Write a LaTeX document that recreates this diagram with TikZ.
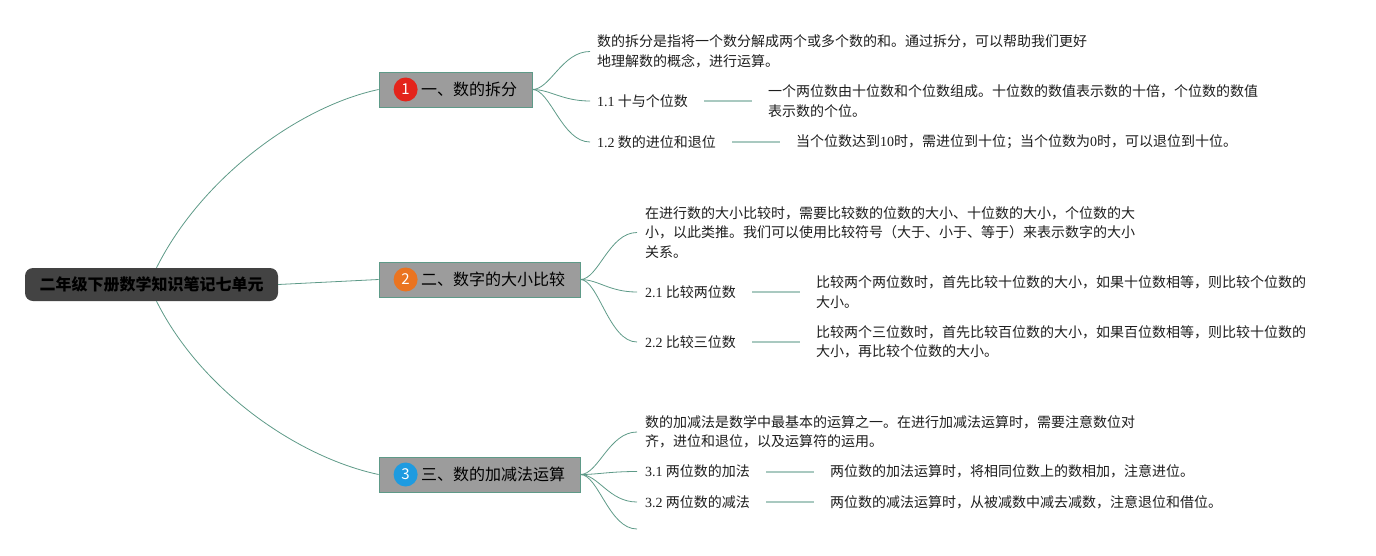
\documentclass[tikz,border=0pt]{standalone}
\usepackage{fontspec}
\setmainfont{Noto Sans CJK SC}
\newfontfamily\latin{Liberation Serif}
\newcommand{\nm}[1]{{\latin #1}}
\usetikzlibrary{positioning}
\definecolor{mapline}{HTML}{5E9A88}
\definecolor{mapbar}{HTML}{A9C9C0}
\definecolor{rootgray}{HTML}{434343}
\definecolor{topicgray}{HTML}{9C9C9C}
\definecolor{badgered}{HTML}{E3241B}
\definecolor{badgeorange}{HTML}{EA7420}
\definecolor{badgeblue}{HTML}{1E9BE0}
\definecolor{notetext}{HTML}{1E1E1E}
\tikzset{
  rootbox/.style={fill=rootgray, rounded corners=8pt, minimum width=253pt, minimum height=33pt, inner sep=0pt, font=\fontsize{16}{16}\selectfont\bfseries, text=black},
  topicbox/.style={draw=mapline, line width=0.8pt, fill=topicgray, minimum height=35pt, inner xsep=15pt, inner ysep=0pt, font=\fontsize{16}{16}\selectfont, text=black},
  badge/.style={circle, inner sep=0pt, minimum size=24pt, text=white, font=\fontsize{15}{15}\selectfont},
  note/.style={inner sep=0pt, anchor=west, align=left, text=notetext, font=\fontsize{14}{19.5}\selectfont},
  stem/.style={draw=mapline, line width=0.8pt},
  bar/.style={draw=mapbar, line width=2pt}
}

\begin{document}
\begin{tikzpicture}[x=1pt, y=-1pt]
  \useasboundingbox (0,0) rectangle (1376,555);

  % root and main topics
  \node[rootbox] (root) at (151.5,284.5) {二年级下册数学知识笔记七单元};
  \node[topicbox] (t1) at (455.5,89.5) {\hspace{27pt}一、数的拆分};
  \node[topicbox] (t2) at (479.5,279.5) {\hspace{27pt}二、数字的大小比较};
  \node[topicbox] (t3) at (479.5,474.5) {\hspace{27pt}三、数的加减法运算};
  \node[badge, fill=badgered] (k1) at ([xshift=27pt]t1.west) {1};
  \node[badge, fill=badgeorange] (k2) at ([xshift=27pt]t2.west) {2};
  \node[badge, fill=badgeblue] (k3) at ([xshift=27pt]t3.west) {3};

  \draw[stem] ([xshift=5pt]root.north) .. controls +(45,-90) and +(-80,17) .. (t1.west);
  \draw[stem] (root.east) -- (t2.west);
  \draw[stem] ([xshift=5pt]root.south) .. controls +(45,90) and +(-80,-17) .. (t3.west);

  % topic 1
  \node[note] (n1) at (597,51.5) {数的拆分是指将一个数分解成两个或多个数的和。通过拆分，可以帮助我们更好\\地理解数的概念，进行运算。};
  \node[note] (s11) at (597,101) {\nm{1.1} 十与个位数};
  \node[note, right=80pt of s11] (d11) {一个两位数由十位数和个位数组成。十位数的数值表示数的十倍，个位数的数值\\表示数的个位。};
  \node[note] (s12) at (597,142) {\nm{1.2} 数的进位和退位};
  \node[note, right=80pt of s12] (d12) {当个位数达到\nm{10}时，需进位到十位；当个位数为\nm{0}时，可以退位到十位。};

  \foreach \n in {n1,s11,s12}
    \draw[stem] (t1.east) .. controls +(18,0) and +(-28,0) .. ([xshift=-7pt]\n.west);
  \draw[bar] ([xshift=16pt]s11.east) -- ([xshift=-16pt]d11.west);
  \draw[bar] ([xshift=16pt]s12.east) -- ([xshift=-16pt]d12.west);

  % topic 2
  \node[note] (n2) at (645,232.5) {在进行数的大小比较时，需要比较数的位数的大小、十位数的大小，个位数的大\\小，以此类推。我们可以使用比较符号（大于、小于、等于）来表示数字的大小\\关系。};
  \node[note] (s21) at (645,292) {\nm{2.1} 比较两位数};
  \node[note, right=80pt of s21] (d21) {比较两个两位数时，首先比较十位数的大小，如果十位数相等，则比较个位数的\\大小。};
  \node[note] (s22) at (645,342) {\nm{2.2} 比较三位数};
  \node[note, right=80pt of s22] (d22) {比较两个三位数时，首先比较百位数的大小，如果百位数相等，则比较十位数的\\大小，再比较个位数的大小。};

  \foreach \n in {n2,s21,s22}
    \draw[stem] (t2.east) .. controls +(18,0) and +(-28,0) .. ([xshift=-8pt]\n.west);
  \draw[bar] ([xshift=16pt]s21.east) -- ([xshift=-16pt]d21.west);
  \draw[bar] ([xshift=16pt]s22.east) -- ([xshift=-16pt]d22.west);

  % topic 3
  \node[note] (n3) at (645,432) {数的加减法是数学中最基本的运算之一。在进行加减法运算时，需要注意数位对\\齐，进位和退位，以及运算符的运用。};
  \node[note] (s31) at (645,471.5) {\nm{3.1} 两位数的加法};
  \node[note, right=80pt of s31] (d31) {两位数的加法运算时，将相同位数上的数相加，注意进位。};
  \node[note] (s32) at (645,502) {\nm{3.2} 两位数的减法};
  \node[note, right=80pt of s32] (d32) {两位数的减法运算时，从被减数中减去减数，注意退位和借位。};
  \coordinate (e3) at (637,529);

  \foreach \n in {n3,s31,s32}
    \draw[stem] (t3.east) .. controls +(18,0) and +(-28,0) .. ([xshift=-8pt]\n.west);
  \draw[stem] (t3.east) .. controls +(18,0) and +(-28,0) .. (e3);
  \draw[bar] ([xshift=16pt]s31.east) -- ([xshift=-16pt]d31.west);
  \draw[bar] ([xshift=16pt]s32.east) -- ([xshift=-16pt]d32.west);
\end{tikzpicture}
\end{document}
